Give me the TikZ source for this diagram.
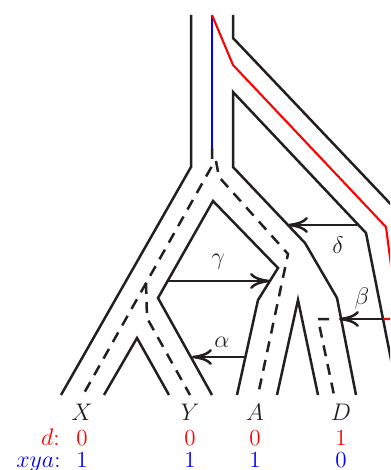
\documentclass[tikz,border=0pt]{standalone}
\usepackage{xcolor}
\definecolor{inkgray}{HTML}{231F20}
\definecolor{dred}{HTML}{FF0000}
\definecolor{xyablue}{HTML}{0000FF}
\usepackage{tikz}
\usetikzlibrary{arrows.meta}
\tikzset{
  wall/.style  ={draw=inkgray, line width=1.25pt, line join=miter},
  midln/.style ={draw=inkgray, line width=1.25pt, dash pattern=on 5.5pt off 4pt},
  dpath/.style ={draw=dred, line width=1.05pt},
  xpath/.style ={draw=xyablue, line width=1.05pt},
  parr/.style  ={-{Computer Modern Rightarrow[length=10pt,width=8pt]}, line width=1.25pt, color=inkgray},
  plbl/.style  ={font=\fontsize{11.5}{14}\selectfont, text=inkgray, inner sep=0pt},
  leaf/.style  ={font=\fontsize{11.5}{14}\selectfont, text=inkgray, anchor=base, inner sep=0pt},
  dval/.style  ={font=\fontsize{11.5}{14}\selectfont, text=dred, anchor=base, inner sep=0pt},
  xval/.style  ={font=\fontsize{11.5}{14}\selectfont, text=xyablue, anchor=base, inner sep=0pt},
}
\begin{document}
\begin{tikzpicture}[x=0.5pt, y=-0.5pt]
  \useasboundingbox (0,0) rectangle (390,470);
  \begin{scope}
    \clip (0,0) rectangle (390,470);
    % tube walls
    \draw[wall] (191,15) -- (191,167) -- (61,395);
    \draw[wall] (233,15) -- (233,38) -- (420,235);
    \draw[wall] (399,400) -- (366,233) -- (233,92) -- (233,167) -- (305,243) -- (337,298) -- (356,395);
    \draw[wall] (212,395) -- (158,298) -- (213,201) -- (278,268) -- (258,300) -- (237,395);
    \draw[wall] (104,395) -- (137,338) -- (169,395);
    \draw[wall] (277,395) -- (298,300) -- (318,395);
    % strand centres
    \draw[midln] (212,148) -- (212,166) -- (83,395);
    \draw[midln] (146,283) -- (147,318) -- (190,395);
    \draw[midln] (216,161) -- (219,177) -- (288,254) -- (258,395);
    \draw[midln] (329,319) -- (318,319) -- (334,395);
    \draw[xpath] (212,15) -- (212,148);
    \draw[dpath] (212,15) -- (233,65) -- (386,227) -- (398,319) -- (383,319);
  \end{scope}
  % crossings
  \coordinate (dltS) at (357,225); \coordinate (dltT) at (288,225);
  \coordinate (gamS) at (168,281); \coordinate (gamT) at (270,281);
  \coordinate (betS) at (383,319); \coordinate (betT) at (339,319);
  \coordinate (alpS) at (245,357); \coordinate (alpT) at (192,357);
  \draw[parr] (dltS) -- (dltT);
  \draw[parr] (gamS) -- (gamT);
  \draw[parr] (betS) -- (betT);
  \draw[parr] (alpS) -- (alpT);
  \node[plbl] (dlt) at (338,245) {$\delta$};
  \node[plbl] (gam) at (218,262) {$\gamma$};
  \node[plbl] (bet) at (362,298) {$\beta$};
  \node[plbl] (alp) at (222,342) {$\alpha$};
  % leaves and values
  \node[leaf] (lX) at (82,420) {$X$};
  \node[leaf] (lY) at (190,420) {$Y$};
  \node[leaf] (lA) at (255,420) {$A$};
  \node[leaf] (lD) at (341,420) {$D$};
  \node[dval, anchor=base east] (dhd) at (60,445) {$d$:};
  \node[dval] (dX) at (82,445) {0};
  \node[dval] (dY) at (190,445) {0};
  \node[dval] (dA) at (255,445) {0};
  \node[dval] (dD) at (341,445) {1};
  \node[xval, anchor=base east] (xhd) at (61,467.5) {$xya$:};
  \node[xval] (xX) at (82,467.5) {1};
  \node[xval] (xY) at (190,467.5) {1};
  \node[xval] (xA) at (255,467.5) {1};
  \node[xval] (xD) at (341,467.5) {0};
\end{tikzpicture}
\end{document}
